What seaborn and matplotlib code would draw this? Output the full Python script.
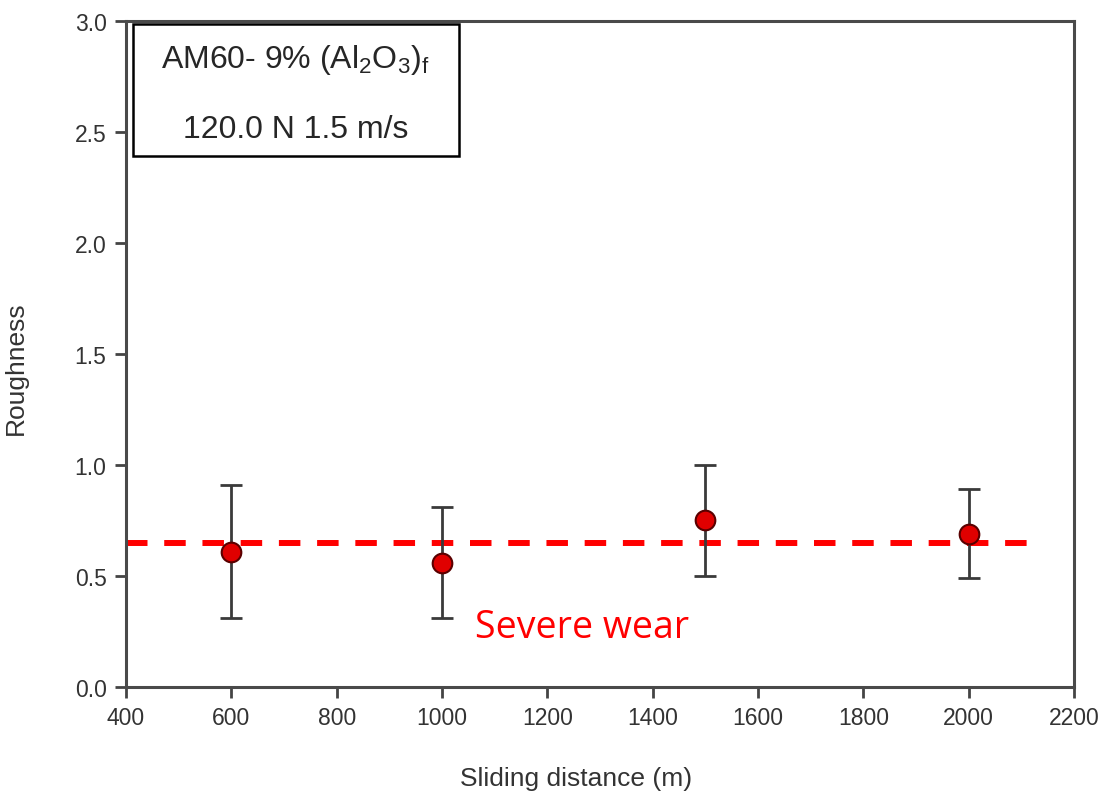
import numpy as np
import pandas as pd
import seaborn as sns
import matplotlib.pyplot as plt
from matplotlib.patches import Rectangle

# Data
distance = [600, 1000, 1500, 2000]
roughness = [0.61, 0.56, 0.75, 0.69]
err_low = [0.31, 0.31, 0.50, 0.49]
err_high = [0.91, 0.81, 1.00, 0.89]
threshold = 0.65
threshold_span = [400, 2138]
x_ticks = [400, 600, 800, 1000, 1200, 1400, 1600, 1800, 2000, 2200]
y_ticks = [0.0, 0.5, 1.0, 1.5, 2.0, 2.5, 3.0]

df = pd.DataFrame({'distance': distance, 'roughness': roughness,
                   'low': err_low, 'high': err_high})

sns.set_style('ticks')
plt.rcParams['font.family'] = ['Liberation Sans', 'DejaVu Sans']
plt.rcParams['mathtext.fontset'] = 'custom'
plt.rcParams['mathtext.rm'] = 'Liberation Sans'
plt.rcParams['mathtext.it'] = 'Liberation Sans'

fig = plt.figure(figsize=(11.1, 8.04), dpi=100)
ax = fig.add_axes([0.1135, 0.1443, 0.8541, 0.8283])

# Threshold line
ax.plot(threshold_span, [threshold, threshold], color='#ff0000', lw=4.3,
        dashes=(3.6, 2.8), zorder=2)

# Error bars
yerr = np.array([df['roughness'] - df['low'], df['high'] - df['roughness']])
ax.errorbar(df['distance'], df['roughness'], yerr=yerr, fmt='none',
            ecolor='#3a3a3a', elinewidth=2, capsize=8, capthick=2, zorder=3)

# Points
sns.scatterplot(data=df, x='distance', y='roughness', ax=ax, s=200,
                color='#e00000', edgecolor='#5a0000', linewidth=1.5,
                zorder=4, legend=False)

ax.text(1266, 0.27, 'Severe wear', color='#ff0000', fontsize=27,
        family=['Open Sans', 'DejaVu Sans'], ha='center', va='center')

# Label box
ax.add_patch(Rectangle((0.007, 0.797), 0.344, 0.198, transform=ax.transAxes,
                       facecolor='white', edgecolor='black', lw=1.8, zorder=5))
ax.text(0.179, 0.943, r'AM60- 9% (Al$_2$O$_3$)$_\mathrm{f}$',
        transform=ax.transAxes, ha='center', va='center', fontsize=23, zorder=6)
ax.text(0.179, 0.838, '120.0 N 1.5 m/s', transform=ax.transAxes,
        ha='center', va='center', fontsize=23, zorder=6)

ax.set_xlim(400, 2200)
ax.set_ylim(0, 3.0)
ax.set_xticks(x_ticks)
ax.set_yticks(y_ticks)
ax.set_yticklabels([f'{v:.1f}' for v in y_ticks])
ax.set_xlabel('Sliding distance (m)', fontsize=19, color='#333333')
ax.set_ylabel('Roughness', fontsize=19, color='#333333')
ax.xaxis.set_label_coords(0.475, -0.118)
ax.yaxis.set_label_coords(-0.103, 0.48)
ax.tick_params(direction='out', length=8, width=2, colors='#444444',
               labelsize=16.5, labelcolor='#333333', pad=6)
for sp in ax.spines.values():
    sp.set_color('#4a4a4a')
    sp.set_linewidth(2.2)

fig.savefig('out.png', dpi=100)
